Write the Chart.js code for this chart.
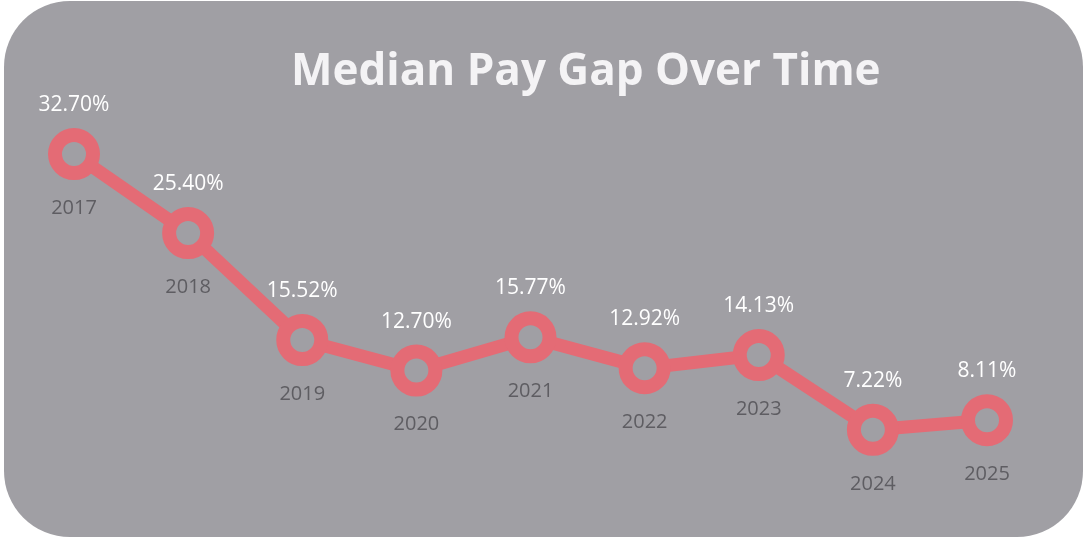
<!DOCTYPE html>
<html>
<head>
<meta charset="utf-8">
<script src="https://cdn.jsdelivr.net/npm/chart.js@4/dist/chart.umd.min.js"></script>
<style>
html,body{margin:0;padding:0;background:#ffffff;}
#wrap{position:relative;width:1084px;height:541px;}
canvas{display:block;}
</style>
</head>
<body>
<div id="wrap"><canvas id="c" width="1084" height="541"></canvas></div>
<script>
const years = ['2017','2018','2019','2020','2021','2022','2023','2024','2025'];
const payGap = [32.70, 25.40, 15.52, 12.70, 15.77, 12.92, 14.13, 7.22, 8.11];
const valueLabels = ['32.70%','25.40%','15.52%','12.70%','15.77%','12.92%','14.13%','7.22%','8.11%'];
const titleText = 'Median Pay Gap Over Time';

const BG = '#a09fa4';
const PINK = '#e46b75';

const panelPlugin = {
  id: 'panel',
  beforeDraw(chart) {
    const ctx = chart.ctx;
    ctx.save();
    ctx.fillStyle = '#ffffff';
    ctx.fillRect(0, 0, chart.width, chart.height);
    ctx.beginPath();
    ctx.roundRect(4, 1, 1079, 536, 66);
    ctx.fillStyle = BG;
    ctx.fill();
    ctx.fillStyle = '#f4f3f5';
    ctx.font = 'bold 44px "Open Sans"';
    ctx.textAlign = 'left';
    ctx.textBaseline = 'alphabetic';
    ctx.fillText(titleText, 291, 85);
    ctx.restore();
  }
};

const labelPlugin = {
  id: 'pointLabels',
  afterDatasetsDraw(chart) {
    const ctx = chart.ctx;
    const meta = chart.getDatasetMeta(0);
    ctx.save();
    ctx.textAlign = 'center';
    ctx.textBaseline = 'middle';
    meta.data.forEach((pt, i) => {
      ctx.font = '21px "Open Sans"';
      ctx.fillStyle = '#ffffff';
      ctx.fillText(valueLabels[i], pt.x, pt.y - 49);
      ctx.font = '20px "Open Sans"';
      ctx.fillStyle = '#5e5d62';
      ctx.fillText(years[i], pt.x, pt.y + 54);
    });
    ctx.restore();
  }
};

new Chart(document.getElementById('c'), {
  type: 'line',
  data: {
    labels: years,
    datasets: [{
      data: payGap,
      borderColor: PINK,
      borderWidth: 13,
      pointRadius: 19,
      pointHoverRadius: 19,
      pointBorderWidth: 14,
      pointBorderColor: PINK,
      pointBackgroundColor: BG,
      tension: 0,
      clip: false
    }]
  },
  options: {
    responsive: false,
    animation: false,
    layout: { padding: { left: 74, right: 97, top: 75, bottom: 24 } },
    plugins: { legend: { display: false }, title: { display: false }, tooltip: { enabled: false } },
    scales: {
      x: { display: false, offset: false },
      y: { display: false, min: 0, max: 40 }
    }
  },
  plugins: [panelPlugin, labelPlugin]
});
</script>
</body>
</html>
